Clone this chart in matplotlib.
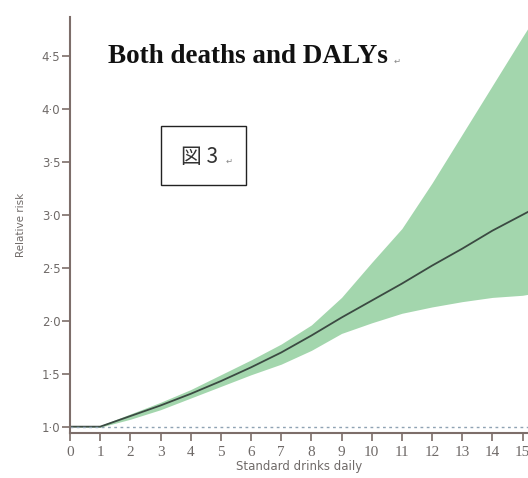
import matplotlib.pyplot as plt
from matplotlib.patches import Rectangle

# Data
drinks = [0, 1, 2, 3, 4, 5, 6, 7, 8, 9, 10, 11, 12, 13, 14, 15, 15.2]
rr_mean = [1.0, 1.0, 1.10, 1.20, 1.31, 1.43, 1.56, 1.70, 1.86, 2.03, 2.19, 2.35, 2.52, 2.68, 2.85, 3.00, 3.03]
rr_upper = [1.0, 1.01, 1.12, 1.23, 1.35, 1.49, 1.63, 1.78, 1.96, 2.22, 2.55, 2.87, 3.30, 3.76, 4.22, 4.68, 4.77]
rr_lower = [1.0, 0.995, 1.07, 1.16, 1.27, 1.38, 1.49, 1.59, 1.72, 1.88, 1.98, 2.07, 2.13, 2.18, 2.22, 2.24, 2.25]

x_ticks = list(range(16))
y_ticks = [1.0, 1.5, 2.0, 2.5, 3.0, 3.5, 4.0, 4.5]
y_tick_labels = ['1·0', '1·5', '2·0', '2·5', '3·0', '3·5', '4·0', '4·5']

axis_col = '#7d6e6a'
label_col = '#6f6a68'

fig = plt.figure(figsize=(5.28, 4.78), dpi=100)
ax = fig.add_axes([0.1326, 0.0941, 0.8674, 0.870])

ax.fill_between(drinks, rr_lower, rr_upper, color='#a3d6ad', linewidth=0)
ax.plot(drinks, rr_mean, color='#3b4a42', lw=1.3)
ax.axhline(1.0, color='#8fa3b3', lw=1.0, ls=(0, (2, 2.5)))

ax.set_xlim(0, 15.18)
ax.set_ylim(0.94, 4.865)

ax.spines['top'].set_visible(False)
ax.spines['right'].set_visible(False)
for s in ['left', 'bottom']:
    ax.spines[s].set_color(axis_col)
    ax.spines[s].set_linewidth(1.5)

ax.set_xticks(x_ticks)
ax.set_xticklabels([str(t) for t in x_ticks], family='Liberation Serif', fontsize=11, color=label_col)
ax.set_yticks(y_ticks)
ax.set_yticklabels(y_tick_labels, fontsize=8.5, color=label_col)
ax.tick_params(axis='both', direction='out', length=6, width=1.2, color=axis_col)
ax.tick_params(axis='x', pad=3)
ax.tick_params(axis='y', pad=1)

ax.set_xlabel('Standard drinks daily', fontsize=8.5, color=label_col, labelpad=1)
ax.set_ylabel('Relative risk', fontsize=7.5, color=label_col, labelpad=11)

# Heading
fig.text(108 / 528, 1 - 63 / 478, 'Both deaths and DALYs', family=['Liberation Serif', 'DejaVu Serif'],
         fontsize=19.5, fontweight='bold', color='#111111', ha='left', va='baseline')
fig.text(394 / 528, 1 - 64 / 478, '↵', family='DejaVu Sans', fontsize=6, color='#888888',
         ha='left', va='baseline')

# Boxed figure label
fig.patches.append(Rectangle((161 / 528, 1 - 185 / 478), 85 / 528, 59 / 478,
                             transform=fig.transFigure, fc='white', ec='#222222', lw=1.0))
fig.text(200 / 528, 1 - 157 / 478, '図 3', family=['Noto Sans CJK JP', 'DejaVu Sans'],
         fontsize=15, color='#333333', ha='center', va='center')
fig.text(226 / 528, 1 - 164 / 478, '↵', family='DejaVu Sans', fontsize=6, color='#888888',
         ha='left', va='baseline')

fig.savefig('out.png', dpi=100)
